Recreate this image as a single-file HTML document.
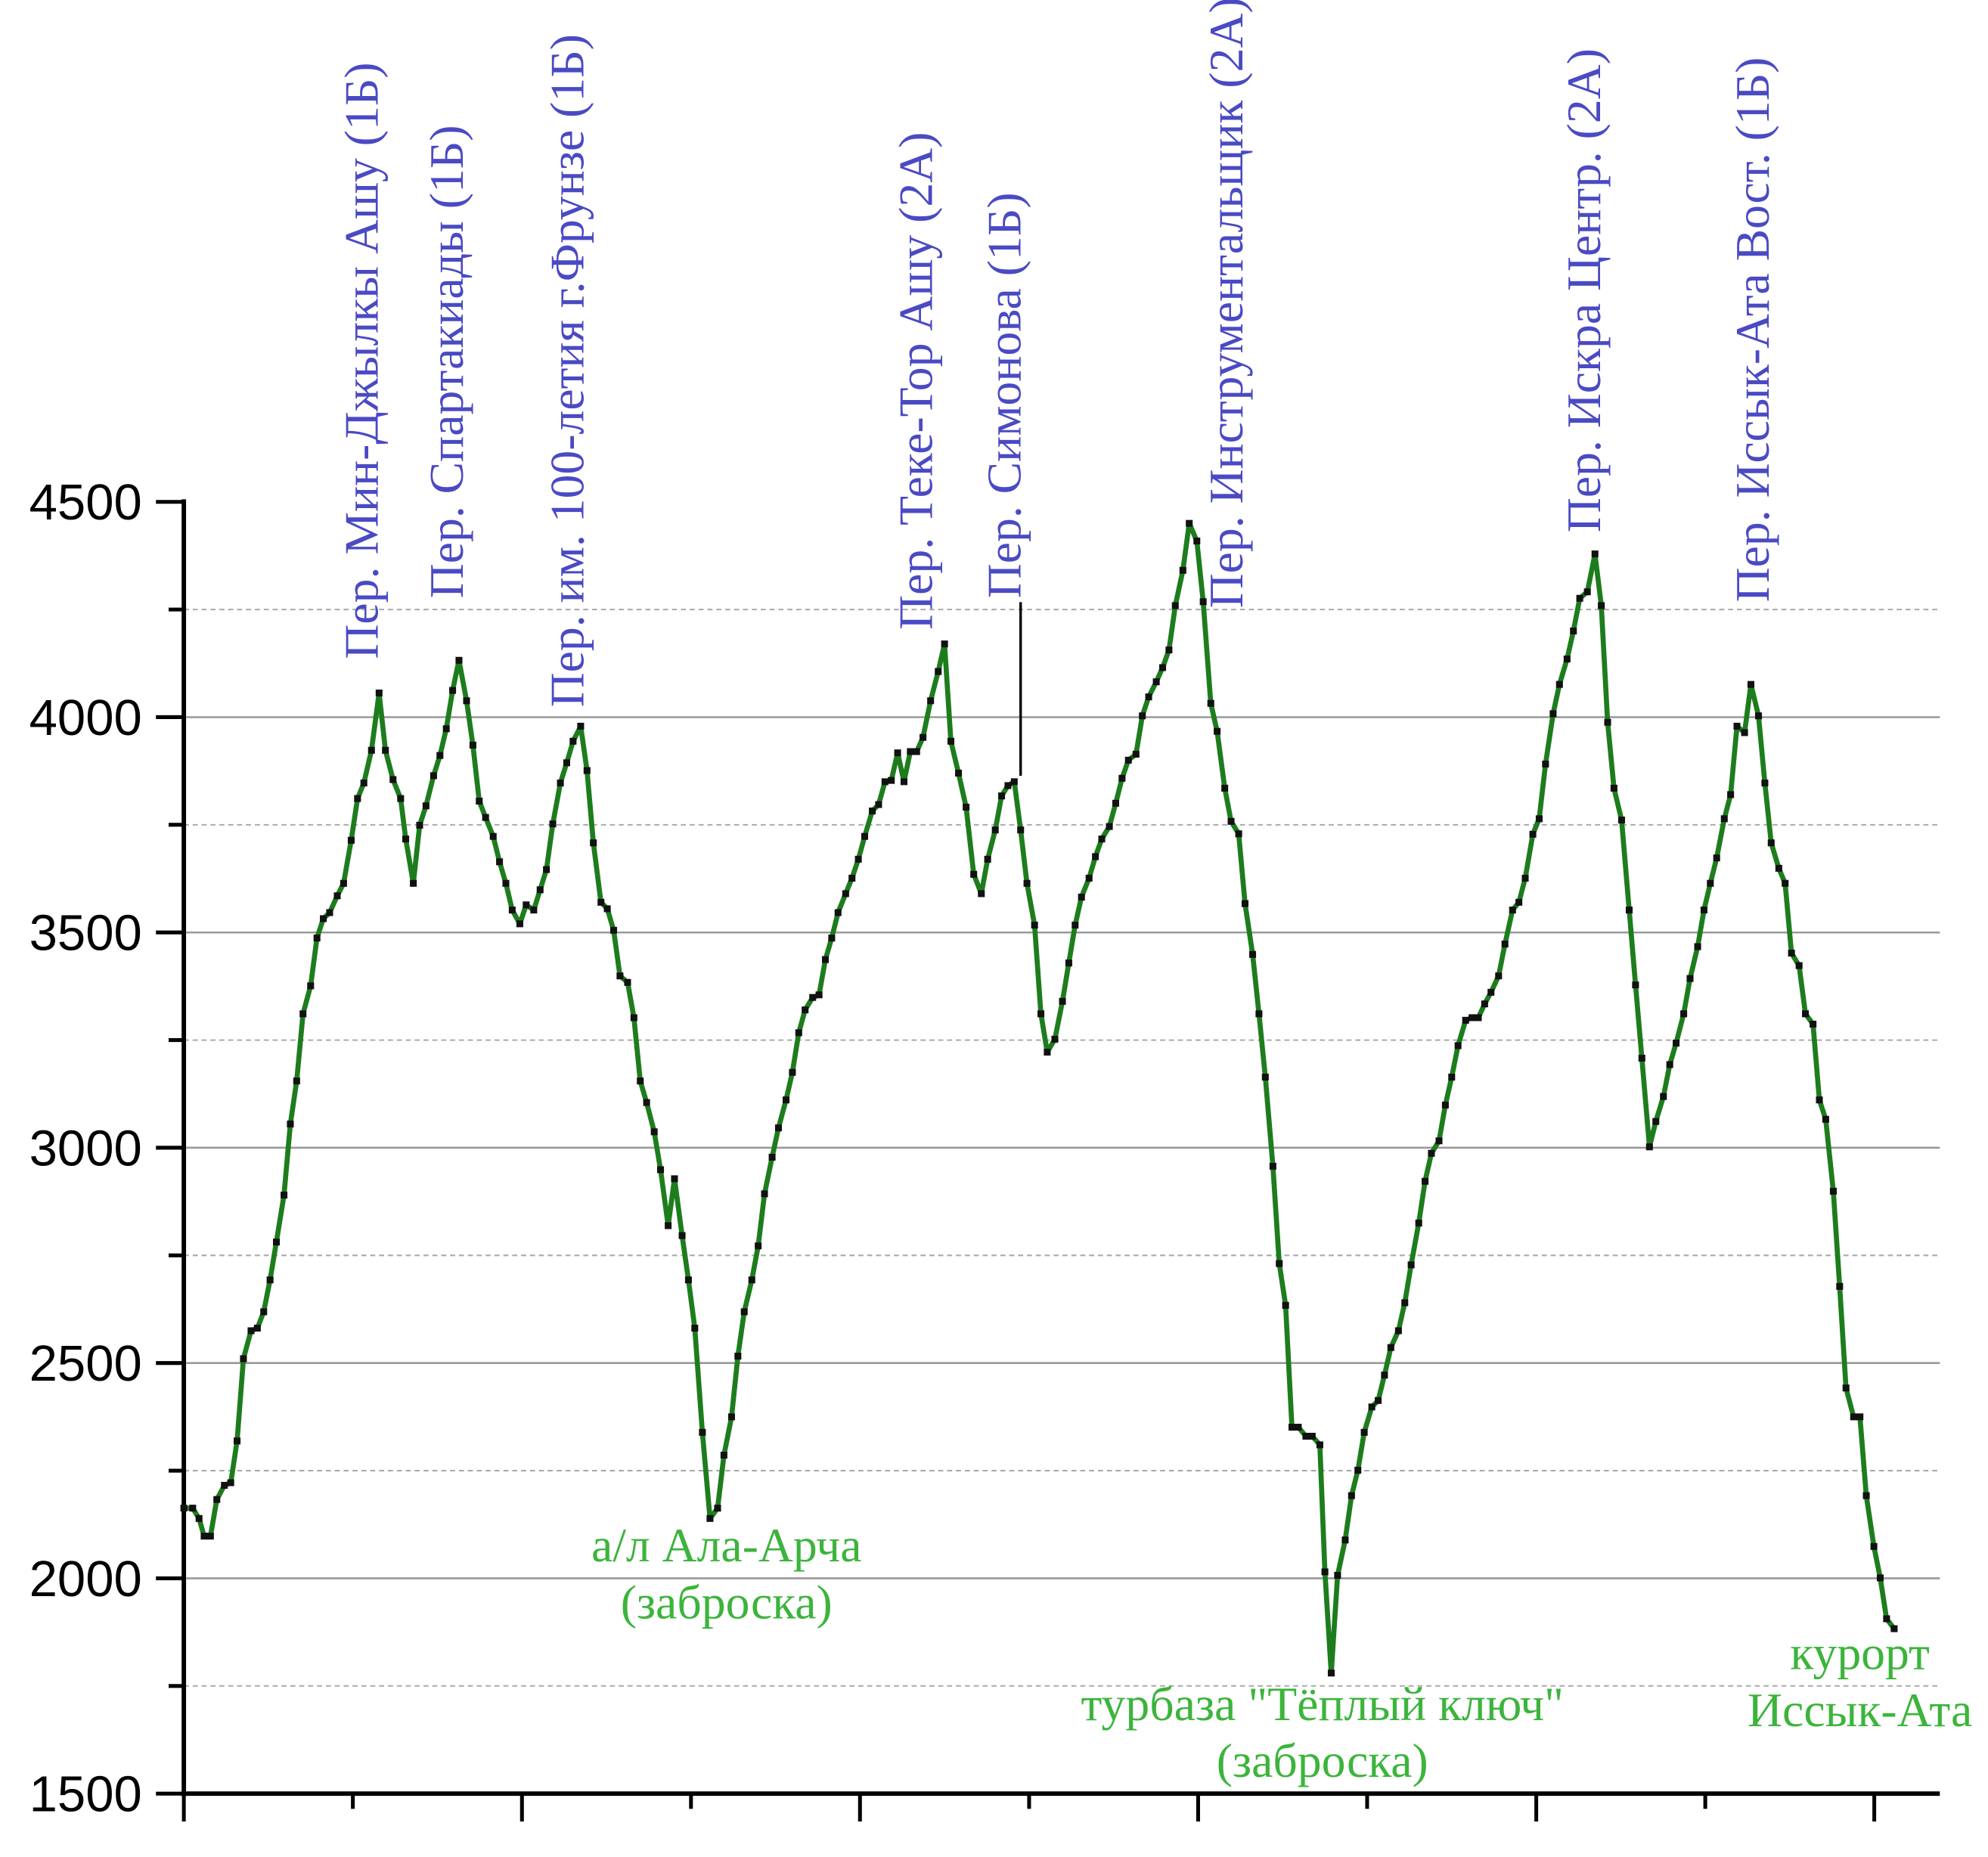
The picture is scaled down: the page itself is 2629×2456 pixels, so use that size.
<!DOCTYPE html>
<html><head><meta charset="utf-8"><style>
html,body{margin:0;padding:0;background:#fff;}
svg{display:block;}
</style></head><body>
<svg id="chart" width="2629" height="2456" viewBox="0 0 1568 1465" preserveAspectRatio="none" xmlns="http://www.w3.org/2000/svg">
<rect width="1568" height="1465" fill="#fff"/>
<g id="grid"></g>
<g id="axes"></g>
<g id="series"></g>
<g id="labels" font-family="'Liberation Serif', 'Noto Serif CJK SC', serif"></g>
</svg>
<script>
const distances=[0,7,12,16,21,26,32,37,42,47,53,58,63,68,73,79,84,89,94,100,105,110,115,121,126,132,137,142,148,154,159,165,171,175,181,186,191,197,202,207,212,217,223,228,233,238,244,249,254,259,265,270,276,281,286,291,297,302,307,313,318,323,329,334,339,344,350,355,360,365,371,376,382,387,393,398,403,409,415,421,426,432,437,442,448,453,458,464,469,475,480,485,490,496,501,506,511,516,522,527,532,537,543,548,553,558,563,568,573,578,583,589,595,600,605,611,617,623,629,634,640,645,650,655,660,665,671,676,681,687,693,698,703,708,714,719,724,730,735,740,745,751,756,761,767,772,777,782,788,793,799,804,810,815,821,826,832,837,843,848,853,859,864,869,874,879,885,890,896,900,905,910,916,921,926,931,937,942,947,952,958,963,968,974,979,984,990,995,1000,1005,1011,1016,1021,1026,1031,1037,1042,1048,1053,1058,1064,1069,1074,1080,1085,1091,1096,1101,1107,1113,1118,1123,1128,1134,1140,1145,1150,1156,1161,1167,1172,1177,1183,1188,1194,1199,1204,1209,1215,1220,1225,1231,1236,1242,1247,1252,1258,1263,1268,1274,1279,1285,1290,1295,1301,1306,1311,1317,1322,1327,1333,1338,1343,1349,1354,1360];
const elevations=[2163,2163,2139,2098,2098,2183,2216,2222,2319,2510,2575,2581,2619,2693,2781,2890,3055,3155,3311,3376,3487,3532,3546,3585,3614,3714,3811,3847,3923,4056,3923,3855,3811,3717,3614,3749,3794,3864,3911,3973,4062,4132,4038,3935,3805,3767,3723,3664,3614,3552,3520,3564,3552,3599,3646,3752,3847,3894,3944,3979,3876,3708,3570,3555,3505,3399,3384,3302,3155,3105,3037,2949,2819,2928,2796,2693,2581,2339,2139,2163,2286,2375,2516,2619,2693,2772,2893,2978,3046,3111,3175,3267,3320,3349,3355,3437,3487,3546,3590,3626,3670,3723,3782,3797,3850,3853,3917,3850,3920,3920,3953,4038,4106,4170,3944,3870,3791,3635,3590,3670,3738,3817,3841,3850,3738,3614,3517,3311,3222,3252,3340,3429,3517,3582,3626,3676,3717,3746,3800,3858,3900,3914,4003,4047,4082,4115,4156,4259,4341,4450,4409,4268,4032,3967,3835,3758,3729,3567,3449,3311,3164,2957,2731,2634,2351,2351,2330,2330,2310,2015,1780,2007,2089,2192,2251,2339,2398,2413,2472,2536,2575,2640,2728,2825,2922,2987,3016,3099,3164,3237,3296,3302,3302,3334,3361,3399,3473,3552,3570,3626,3728,3764,3891,4008,4076,4135,4200,4276,4291,4379,4259,3988,3835,3761,3552,3378,3208,3002,3061,3119,3193,3243,3311,3393,3467,3552,3614,3673,3764,3820,3979,3964,4076,4003,3847,3708,3649,3614,3452,3423,3311,3287,3111,3066,2899,2678,2442,2375,2375,2192,2074,2001,1906,1883];
const yTicks=[1500,2000,2500,3000,3500,4000,4500];
const yMinor=[1750,2250,2750,3250,3750,4250];
const xMajor=[0,266.7,533.3,800,1066.7,1333.3];
const xMinor=[133.3,400,666.7,933.3,1200];
const passNames=["Пер. Мин-Джылкы Ашу (1Б)","Пер. Спартакиады (1Б)","Пер. им. 100-летия г.Фрунзе (1Б)","Пер. Теке-Тор Ашу (2А)","Пер. Симонова (1Б)","Пер. Инструментальщик (2А)","Пер. Искра Центр. (2А)","Пер. Иссык-Ата Вост. (1Б)"];
const passDist=[140,207,302,577,647,822,1104,1237];
const passElev=[4135,4276,4023,4203,4276,4253,4429,4267];
const campLines=[["а/л Ала-Арча","(заброска)"],["турбаза \"Тёплый ключ\"","(заброска)"],["курорт","Иссык-Ата"]];
const campDist=[428,898,1322];
const campElev=[2039,1671,1789];

const NS="http://www.w3.org/2000/svg";
const X0=145,X1=1530,Y0=1415;
function xs(d){return X0+d*(X1-X0)/1385;}
function ys(v){return Y0-(v-1500)*0.3397;}
function mk(tag,attrs,parent){const e=document.createElementNS(NS,tag);for(const k in attrs)e.setAttribute(k,attrs[k]);parent.appendChild(e);return e;}
const grid=document.getElementById('grid'),axes=document.getElementById('axes'),series=document.getElementById('series'),labels=document.getElementById('labels');

yTicks.forEach(v=>{
  if(v>1500&&v<4500){const l=mk('line',{x1:X0,x2:X1,y1:ys(v),y2:ys(v),stroke:'#999','stroke-width':1.5},grid);
  
  }
  const t=mk('line',{x1:X0-22,x2:X0,y1:ys(v),y2:ys(v),stroke:'#000','stroke-width':3},axes);
  
  
  const tx=mk('text',{x:112,y:ys(v)+14,'text-anchor':'end','font-size':40,'font-family':"'Liberation Sans', sans-serif",fill:'#000'},axes);
  tx.textContent=v;
  
  
});
yMinor.forEach(v=>{
  const l=mk('line',{x1:X0,x2:X1,y1:ys(v),y2:ys(v),stroke:'#aaa','stroke-width':1.2,'stroke-dasharray':'4,3'},grid);
  
  
  const t=mk('line',{x1:X0-12,x2:X0,y1:ys(v),y2:ys(v),stroke:'#000','stroke-width':3},axes);
  
  
});
const ya=mk('line',{x1:X0,x2:X0,y1:ys(4500)-2,y2:Y0+2,stroke:'#000','stroke-width':3.5},axes);


const xa=mk('line',{x1:X0-2,x2:X1,y1:Y0,y2:Y0,stroke:'#000','stroke-width':3.5},axes);


xMajor.forEach(d=>{const t=mk('line',{x1:xs(d),x2:xs(d),y1:Y0,y2:Y0+22,stroke:'#000','stroke-width':3},axes);
  
  });
xMinor.forEach(d=>{const t=mk('line',{x1:xs(d),x2:xs(d),y1:Y0,y2:Y0+12,stroke:'#000','stroke-width':3},axes);
  
  });

const N=Math.min(distances.length,elevations.length);
const ptsArr=[];
for(let i=0;i<N;i++)ptsArr.push(xs(distances[i]).toFixed(1)+','+ys(elevations[i]).toFixed(1));
const pl=mk('polyline',{points:ptsArr.join(' '),fill:'none',stroke:'#1d7d1d','stroke-width':4,'stroke-linejoin':'round'},series);


for(let i=0;i<N;i++){const r=mk('rect',{x:xs(distances[i])-2.7,y:ys(elevations[i])-2.7,width:5.4,height:5.4,fill:'#111'},series);
  
  }

passNames.forEach((n,i)=>{
  const x=xs(passDist[i])+13,y=ys(passElev[i]);
  const t=mk('text',{x:0,y:0,transform:`translate(${x},${y}) rotate(-90)`,'font-size':38,fill:'#4a4ac4'},labels);
  t.textContent=n;
  
  
});
const ln=mk('line',{x1:805,x2:805,y1:475,y2:612,stroke:'#000','stroke-width':2},labels);


campLines.forEach((ls,i)=>{
  ls.forEach((s,j)=>{
    const t=mk('text',{x:xs(campDist[i]),y:ys(campElev[i])+j*45,'text-anchor':'middle','font-size':38,fill:'#3cb43c'},labels);
    t.textContent=s;
    
    
  });
});
</script>
</body></html>
